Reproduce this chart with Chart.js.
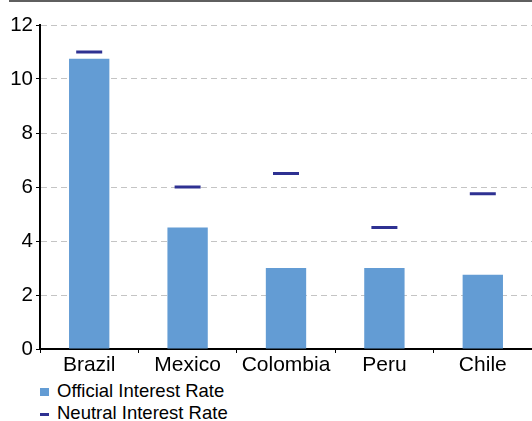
<!DOCTYPE html>
<html>
<head>
<meta charset="utf-8">
<script src="https://cdn.jsdelivr.net/npm/chart.js@4/dist/chart.umd.min.js"></script>
<style>
    html, body { margin: 0; padding: 0; background: #fff; }
    body { width: 532px; height: 421px; position: relative; overflow: hidden; font-family: "Liberation Sans", Arial, sans-serif; }
    #topRule { position: absolute; left: 9px; right: 0; top: 0; height: 2px; background: #5f5f5f; }
    #myChart { position: absolute; left: 0; top: 0; }
    #legend { position: absolute; left: 40px; top: 380px; margin: 0; padding: 0; list-style: none; font-size: 18.5px; line-height: 22px; color: #000; }
    #legend li { position: relative; padding-left: 17px; white-space: nowrap; }
    #legend .mark { position: absolute; left: 0; }
</style>
</head>
<body>
<div id="topRule"></div>
<canvas id="myChart" width="532" height="380"></canvas>
<ul id="legend"></ul>
<script>
"use strict";

const countries = ["Brazil", "Mexico", "Colombia", "Peru", "Chile"];
const officialRate = [10.75, 4.5, 3.0, 3.0, 2.75];
const neutralRate = [11.0, 6.0, 6.5, 4.5, 5.75];
const yTicks = [0, 2, 4, 6, 8, 10, 12];

const barColor = "#639cd4";
const dashColor = "#2e3192";
const fontFamily = "'Liberation Sans', Arial, sans-serif";

//GRAFICO
let chart = new Chart(document.getElementById("myChart"), {
    data: {
        labels: countries,
        datasets: [
            {
                type: "bar",
                label: "Official Interest Rate",
                data: officialRate,
                backgroundColor: barColor,
                borderWidth: 0,
                barPercentage: 0.41,
                categoryPercentage: 1,
                order: 1
            },
            {
                type: "line",
                label: "Neutral Interest Rate",
                data: neutralRate,
                showLine: false,
                pointStyle: "line",
                pointRadius: 13,
                pointHoverRadius: 13,
                pointBorderWidth: 3,
                pointBorderColor: dashColor,
                pointBackgroundColor: dashColor,
                order: 0
            }
        ]
    },
    options: {
        responsive: false,
        animation: false,
        events: [],
        layout: {
            autoPadding: false,
            padding: { top: 25, right: 0, bottom: 0, left: 0 }
        },
        plugins: {
            legend: { display: false },
            tooltip: { enabled: false }
        },
        scales: {
            x: {
                offset: true,
                grid: {
                    offset: true,
                    drawOnChartArea: false,
                    tickLength: 4,
                    tickColor: "#000",
                    tickWidth: 1
                },
                border: { color: "#000", width: 2 },
                ticks: {
                    color: "#000",
                    padding: 0,
                    maxRotation: 0,
                    autoSkip: false,
                    font: { family: fontFamily, size: 21 }
                },
                afterFit: function (scale) {
                    scale.height = 31;
                    scale.paddingLeft = 0;
                    scale.paddingRight = 0;
                }
            },
            y: {
                min: yTicks[0],
                max: yTicks[yTicks.length - 1],
                afterBuildTicks: function (scale) {
                    scale.ticks = yTicks.map(function (v) { return { value: v }; });
                },
                grid: {
                    color: "#c4c4c4",
                    lineWidth: 1,
                    tickLength: 4,
                    tickColor: "#000",
                    tickWidth: 1,
                    tickBorderDash: []
                },
                border: { color: "#000", width: 2, dash: [6, 4] },
                ticks: {
                    color: "#000",
                    padding: 3,
                    font: { family: fontFamily, size: 20.5 }
                },
                afterFit: function (scale) { scale.width = 40; }
            }
        }
    }
});

//LEGENDA
let _legend = document.getElementById("legend");
chart.data.datasets.forEach(function (ds) {
    let li = document.createElement("li");
    let mark = document.createElement("span");
    mark.className = "mark";
    if (ds.type == "bar") {
        mark.style.cssText = "top:8px;width:9px;height:8px;background:" + ds.backgroundColor;
    } else {
        mark.style.cssText = "top:11px;width:9px;height:2.5px;background:" + ds.pointBorderColor;
    }
    li.appendChild(mark);
    li.appendChild(document.createTextNode(ds.label));
    _legend.appendChild(li);
});
</script>
</body>
</html>
